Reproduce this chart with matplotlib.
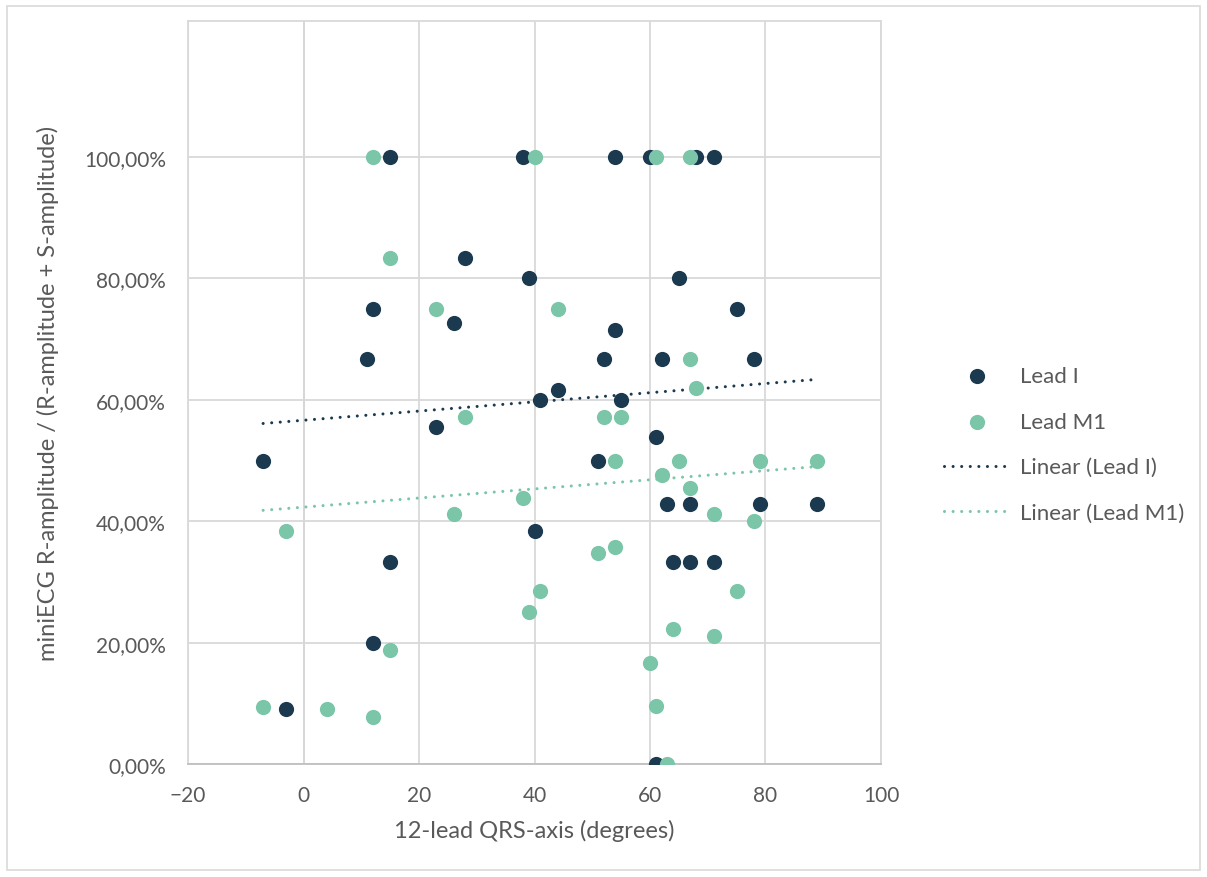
import numpy as np
import matplotlib
matplotlib.use("Agg")
import matplotlib.pyplot as plt
from matplotlib.patches import Rectangle
from matplotlib.ticker import FuncFormatter

plt.rcParams['font.family'] = ['Lato', 'DejaVu Sans']

# 12-lead QRS axis (degrees) and R/(R+S) ratio, lead I
lead1_x = [15, 38, 54, 60, 68, 71, 28, 39, 65, 12, 75, 26, 54, 11, 52, 62, 78, 44,
           41, 55, 23, 61, -7, 51, 63, 67, 79, 89, 40, 64, 67, 71, 15, 12, -3, 61]
lead1_y = [1.0, 1.0, 1.0, 1.0, 1.0, 1.0, 0.8333, 0.80, 0.80, 0.75, 0.75, 0.7273,
           0.7143, 0.6667, 0.6667, 0.6667, 0.6667, 0.6154, 0.60, 0.60, 0.5556,
           0.5385, 0.50, 0.50, 0.4286, 0.4286, 0.4286, 0.4286, 0.3846, 0.3333,
           0.3333, 0.3333, 0.3333, 0.20, 0.0909, 0.0]

# same axis vs ratio, lead M1
m1_x = [12, 40, 61, 67, 15, 23, 44, 67, 68, 28, 52, 55, 54, 65, 79, 89, 62, 67,
        38, 26, 71, 78, -3, 54, 51, 41, 75, 39, 64, 71, 15, 60, 61, -7, 4, 12, 63]
m1_y = [1.0, 1.0, 1.0, 1.0, 0.8333, 0.75, 0.75, 0.6667, 0.62, 0.5714, 0.5714,
        0.5714, 0.50, 0.50, 0.50, 0.50, 0.4762, 0.4545, 0.4375, 0.4118, 0.4118,
        0.40, 0.3846, 0.3571, 0.3478, 0.2857, 0.2857, 0.25, 0.2222, 0.2105,
        0.1875, 0.1667, 0.0952, 0.09375, 0.0909, 0.0769, 0.0]

y_ticks = [0, 0.2, 0.4, 0.6, 0.8, 1.0]
x_ticks = [-20, 0, 20, 40, 60, 80, 100]

dark = '#1b3a50'
teal = '#7bc5a9'
grid_c = '#d9d9d9'
txt_c = '#595959'

fig = plt.figure(figsize=(12.07, 8.78), dpi=100)
ax = fig.add_axes([0.1558, 0.1287, 0.5741, 0.8462])

ax.scatter(lead1_x, lead1_y, s=120, color=dark, zorder=3, label='Lead I', linewidths=0)
ax.scatter(m1_x, m1_y, s=120, color=teal, zorder=3, label='Lead M1', linewidths=0)

# least squares trend lines over the data range
dots = (0, (0.01, 2.8))
for xs, ys, c, name in [(lead1_x, lead1_y, dark, 'Linear (Lead I)'),
                        (m1_x, m1_y, teal, 'Linear (Lead M1)')]:
    k, b = np.polyfit(xs, ys, 1)
    xx = np.array([min(xs), max(xs)])
    ax.plot(xx, k * xx + b, color=c, lw=2.2, linestyle=dots,
            dash_capstyle='round', zorder=2, label=name)

ax.set_xlim(-20, 100)
ax.set_ylim(0, 1.224)
ax.set_xticks(x_ticks)
ax.set_yticks(y_ticks)
ax.yaxis.set_major_formatter(FuncFormatter(lambda v, p: ('%.2f%%' % (v * 100)).replace('.', ',')))
ax.grid(True, color=grid_c, lw=1.3, zorder=0)
ax.axvline(0, color='#bfbfbf', lw=1.3, zorder=1)
ax.tick_params(length=0, labelsize=15, colors=txt_c)
ax.tick_params(axis='y', pad=16)
ax.tick_params(axis='x', pad=15)
for s in ['top', 'right', 'left']:
    ax.spines[s].set_color(grid_c)
    ax.spines[s].set_linewidth(1.3)
ax.spines['bottom'].set_color('#bfbfbf')
ax.spines['bottom'].set_linewidth(1.3)

ax.set_xlabel('12-lead QRS-axis (degrees)', fontsize=17, color=txt_c, labelpad=10)
ax.set_ylabel('miniECG R-amplitude / (R-amplitude + S-amplitude)', fontsize=17,
              color=txt_c, labelpad=18)

leg = ax.legend(loc='center left', bbox_to_anchor=(1.062, 0.43), frameon=False,
                fontsize=16, labelspacing=1.15, handlelength=3.0, handletextpad=0.4)
for t in leg.get_texts():
    t.set_color(txt_c)

fig.patches.append(Rectangle((0.006, 0.008), 0.988, 0.984, transform=fig.transFigure,
                             fill=False, edgecolor='#d9d9d9', lw=1.2))

fig.savefig('out.png', dpi=100)
